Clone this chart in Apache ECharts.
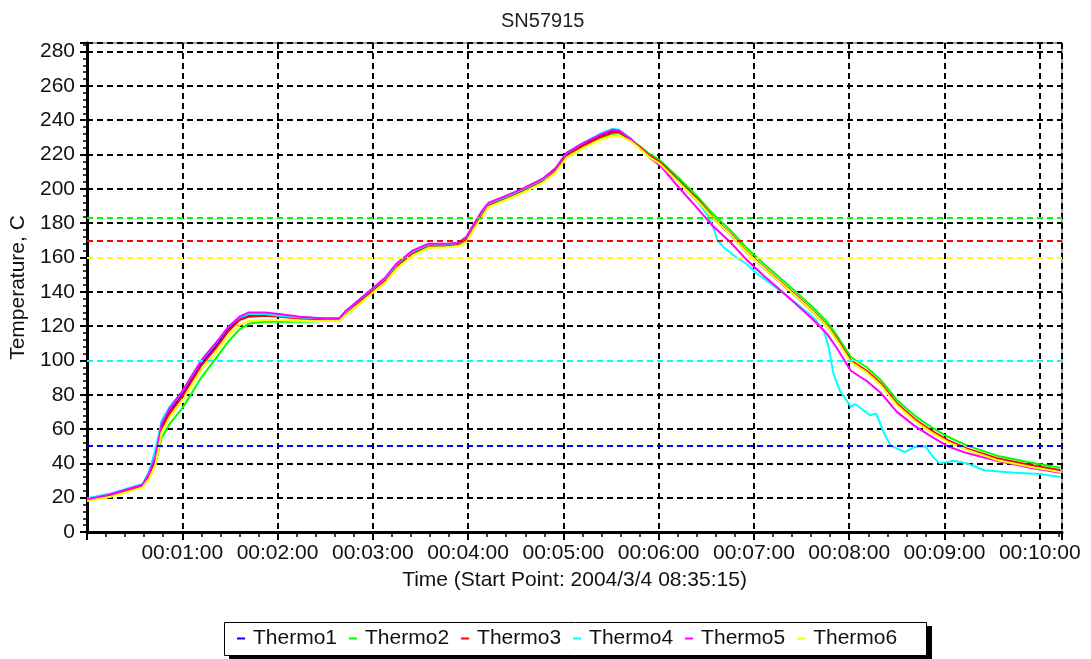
<!DOCTYPE html>
<html>
<head>
<meta charset="utf-8">
<script src="https://cdn.jsdelivr.net/npm/echarts@6/dist/echarts.min.js"></script>
<style>
  html, body { margin: 0; padding: 0; background: #fff; }
  #chart { width: 1091px; height: 659px; }
</style>
</head>
<body>
<div id="chart"></div>
<script>
// time in seconds since start point
const timeSec = [0, 15, 35, 39, 43, 45, 47, 52, 60, 66, 72, 81, 89, 96, 102, 112, 121, 134, 150, 159,
  163, 171, 180, 188, 195, 205, 215, 226, 234, 239, 243, 249, 253, 264, 274, 287, 295, 302, 312, 323,
  331, 335, 342, 348, 354, 361, 373, 385, 394, 405, 415, 426, 436, 447, 457, 466, 472, 481, 491, 500,
  510, 521, 531, 542, 554, 573, 594, 613];

const thermo1 = [19.5, 22, 27.5, 33, 42, 51, 61, 70, 80, 89, 98, 108, 118, 124.5, 126.5, 127, 126, 125, 124.5, 124.5,
  128.5, 134.5, 141.5, 147.5, 155.5, 163, 167.5, 167.5, 168.5, 172, 178, 187, 191.5, 195.5, 199.5, 205.5, 211.5, 220.5, 225.5, 230.5,
  233.5, 233.5, 229, 224, 219, 215, 204, 193, 183, 173.5, 163.5, 154, 146, 137, 128.5, 120, 112.5, 99.5, 93.5, 86,
  74.5, 65.5, 59, 53, 48.3, 42.6, 38.6, 35.6];
const thermo2 = [18.5, 21, 26.5, 31.5, 39, 47, 55, 63, 72, 81, 90, 101, 111, 118, 121.5, 122.5, 122.5, 122.5, 123, 123,
  126.5, 132.5, 140, 146, 154, 161.5, 166, 166.5, 167.5, 170, 176, 185, 190, 194.5, 198.5, 204.5, 210, 218.5, 224, 229,
  232, 232.5, 229, 225, 220.5, 216.5, 206, 195, 185.5, 176, 166, 156.5, 148.5, 139.5, 131, 122.5, 115, 102, 96, 88.5,
  77, 68, 61.5, 55.5, 50.5, 44.5, 40.5, 37.5];
const thermo3 = [19, 21.5, 27, 32, 40, 49, 60, 69, 79, 88, 97, 107, 117, 123.5, 125.5, 126, 125.5, 124.5, 124, 124,
  128, 134, 141, 147, 155, 162.5, 167, 167, 168, 171, 177, 186, 191, 195, 199, 205, 211, 220, 225, 230,
  233, 233, 229, 224.5, 219.5, 215.5, 204.5, 193.5, 183.5, 174, 164, 154.5, 146.5, 137.5, 129, 120.5, 113, 100, 94, 86.5,
  75, 66, 59.5, 53.5, 48.7, 43, 39, 36];
const thermo5 = [19, 22, 27.5, 34, 44, 53, 63, 72, 82, 91, 100, 110, 119.5, 125.5, 128, 128, 127, 125.5, 124.5, 124.5,
  129, 135, 142, 148.5, 156.5, 164, 168, 168, 168.5, 172, 178.5, 187.5, 192, 196, 200, 206, 212, 221, 226.5, 231.5,
  234.5, 234, 229.5, 224, 218.5, 213.5, 200.5, 188, 178.5, 169, 159, 149.5, 141.5, 132.5, 124, 115.5, 107.5, 94, 88, 81,
  70, 62, 56, 50, 46, 41.5, 37.5, 34.5];
const thermo6 = [18, 20.5, 26, 31, 39, 48, 58, 67, 76.5, 85.5, 94.5, 104.5, 114.5, 120.5, 123, 123.5, 123.5, 123, 123, 123,
  126.5, 132.5, 139.5, 145.5, 153.5, 161, 165.5, 166, 166.5, 169, 175.5, 184, 189.5, 193.5, 197.5, 203.5, 209.5, 218, 223.5, 228.5,
  231, 231, 228, 223.5, 218.5, 214.5, 203.5, 192.5, 183, 173.5, 163.5, 154, 146, 137, 128.5, 120, 112, 99, 93, 85.5,
  74, 65, 58.5, 52.5, 48, 42, 38, 35];

// Thermo4 drops away from the others on cooling, so it has its own time points
const thermo4Time = [0, 15, 35, 39, 43, 45, 47, 52, 60, 66, 72, 81, 89, 96, 102, 112, 121, 134, 150, 159,
  163, 171, 180, 188, 195, 205, 215, 226, 234, 239, 243, 249, 253, 264, 274, 287, 295, 302, 312, 323,
  331, 335, 342, 348, 354, 361, 373, 385, 392, 395, 397, 401, 409, 415, 422, 428, 436, 447, 458, 464,
  467, 470, 474, 481, 484, 489, 493, 497, 502, 506, 515, 521, 528, 533, 537, 546, 554, 565, 584, 600, 613];
const thermo4 = [19.5, 22.5, 28, 35, 48, 56, 65, 73, 82, 91, 100, 110, 119.5, 125, 127, 127, 126, 125, 124.5, 124.5,
  128.5, 135, 142, 148, 156, 163.5, 167.5, 167.5, 168.5, 172, 178.5, 187, 191.5, 195.5, 199.5, 205.5, 212, 221, 226.5, 232,
  235, 234.5, 229.5, 224, 218.5, 214, 203.5, 192, 183, 176, 170, 166, 160, 156.5, 150.5, 146.5, 141, 133, 124.5, 117.5,
  108, 92.5, 82.5, 73, 74.5, 71, 68, 69, 57.5, 50.5, 46.5, 49.5, 50, 43.5, 40, 41.5, 40, 36, 34.5, 33.8, 32];

const names = ['Thermo1', 'Thermo2', 'Thermo3', 'Thermo4', 'Thermo5', 'Thermo6'];
const colors = ['#0000ff', '#00ff00', '#ff0000', '#00ffff', '#ff00ff', '#ffff00'];
const limits = [50, 183, 169.5, 100, null, 160];

const font = '"Liberation Sans", Arial, sans-serif';

function pairs(ts, vs) {
  return ts.map((t, i) => [t, vs[i]]);
}
function hms(sec) {
  const m = Math.floor(sec / 60);
  return '00:' + String(m).padStart(2, '0') + ':00';
}

const seriesData = [
  pairs(timeSec, thermo1),
  pairs(timeSec, thermo2),
  pairs(timeSec, thermo3),
  pairs(thermo4Time, thermo4),
  pairs(timeSec, thermo5),
  pairs(timeSec, thermo6)
];

const myChart = echarts.init(document.getElementById('chart'));
const option = {
  animation: false,
  backgroundColor: '#fff',
  color: colors,
  title: {
    text: 'SN57915',
    left: 496,
    top: 6,
    textStyle: { fontFamily: font, fontSize: 20, fontWeight: 'normal', color: '#222' }
  },
  grid: {
    left: 87, right: 29, top: 43, bottom: 127,
    show: true, borderColor: '#444', borderWidth: 1
  },
  // legend frame with its hard drop shadow
  graphic: [
    { type: 'rect', z: 1, shape: { x: 229, y: 626, width: 703, height: 34 }, style: { fill: '#000' } },
    { type: 'rect', z: 2, shape: { x: 224.5, y: 622.5, width: 702, height: 33 }, style: { fill: '#fff', stroke: '#000', lineWidth: 1 } }
  ],
  xAxis: {
    type: 'value',
    min: 0,
    max: 614,
    interval: 60,
    name: 'Time (Start Point: 2004/3/4 08:35:15)',
    nameLocation: 'middle',
    nameGap: 38,
    nameTextStyle: { fontFamily: font, fontSize: 21, color: '#111' },
    axisLine: { show: true, onZero: false, lineStyle: { color: '#000', width: 3 } },
    axisTick: { show: true, inside: false, length: 8, lineStyle: { color: '#000', width: 2 } },
    minorTick: { show: true, splitNumber: 5, length: 5, lineStyle: { color: '#000', width: 1.5 } },
    axisLabel: {
      fontFamily: font, fontSize: 21, color: '#111', margin: 11,
      formatter: v => (v > 0 && v % 60 === 0) ? hms(v) : ''
    },
    splitLine: { show: true, lineStyle: { color: '#000', width: 2, type: [6, 4] } }
  },
  yAxis: {
    type: 'value',
    min: 0,
    max: 285,
    interval: 20,
    name: 'Temperature, C',
    nameLocation: 'middle',
    nameGap: 56,
    nameTextStyle: { fontFamily: font, fontSize: 21, color: '#111' },
    axisLine: { show: true, onZero: false, lineStyle: { color: '#000', width: 3 } },
    axisTick: { show: true, inside: false, length: 7, lineStyle: { color: '#000', width: 2 } },
    minorTick: { show: true, splitNumber: 5, length: 4, lineStyle: { color: '#000', width: 1.5 } },
    axisLabel: {
      fontFamily: font, fontSize: 21, color: '#111', margin: 12,
      formatter: v => (v % 20 === 0) ? String(v) : ''
    },
    splitLine: { show: true, lineStyle: { color: '#000', width: 2, type: [6, 4] } }
  },
  legend: {
    data: names,
    left: 224,
    top: 622,
    z: 10,
    icon: 'rect',
    itemWidth: 8,
    itemHeight: 2,
    itemGap: 12,
    padding: [6, 20, 6, 13],
    textStyle: { fontFamily: font, fontSize: 21, color: '#111', padding: [0, 0, 0, 3] }
  },
  series: names.map((name, i) => ({
    name: name,
    type: 'line',
    data: seriesData[i],
    showSymbol: false,
    smooth: false,
    lineStyle: { width: 2, color: colors[i] },
    itemStyle: { color: colors[i] },
    markLine: limits[i] == null ? undefined : {
      silent: true,
      symbol: ['none', 'none'],
      label: { show: false },
      lineStyle: { color: colors[i], width: 2, type: [6, 4] },
      data: [{ yAxis: limits[i] }]
    }
  }))
};

option && myChart.setOption(option);
</script>
</body>
</html>
